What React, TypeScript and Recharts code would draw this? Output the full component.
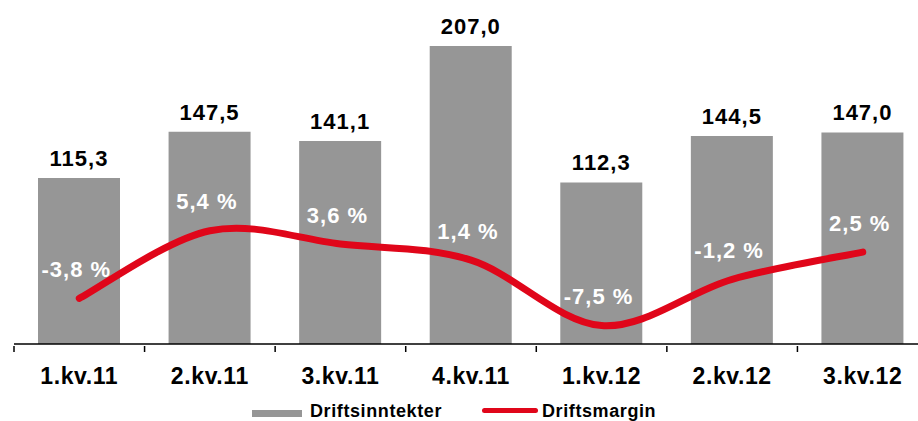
import { Bar, ComposedChart, LabelList, Line, XAxis, YAxis } from "recharts";

const quarters = ["1.kv.11", "2.kv.11", "3.kv.11", "4.kv.11", "1.kv.12", "2.kv.12", "3.kv.12"];
const revenue = [115.3, 147.5, 141.1, 207.0, 112.3, 144.5, 147.0];
const margin = [-3.8, 5.4, 3.6, 1.4, -7.5, -1.2, 2.5];

const data = quarters.map((q, i) => ({ q, revenue: revenue[i], margin: margin[i] }));

const FONT = '"Liberation Sans", Arial, sans-serif';
const BAR = "#969696";
const RED = "#e0061a";
const CHART_W = 938;
const CHART_H = 421;
const M = { top: 13, right: 10, bottom: 37, left: 14 };
const BAND = (CHART_W - M.left - M.right) / quarters.length;

const fmt = (v: number) => v.toFixed(1).replace(".", ",");

// Excel-like smoothing (Catmull-Rom through every point)
const smooth = (context: any) => {
  let xs: number[] = [];
  let ys: number[] = [];
  return {
    areaStart() {},
    areaEnd() {},
    lineStart() {
      xs = [];
      ys = [];
    },
    point(x: number, y: number) {
      xs.push(+x);
      ys.push(+y);
    },
    lineEnd() {
      const n = xs.length;
      if (!n) return;
      context.moveTo(xs[0], ys[0]);
      for (let i = 0; i < n - 1; i++) {
        const a = Math.max(i - 1, 0);
        const d = Math.min(i + 2, n - 1);
        context.bezierCurveTo(
          xs[i] + (xs[i + 1] - xs[a]) / 6,
          ys[i] + (ys[i + 1] - ys[a]) / 6,
          xs[i + 1] - (xs[d] - xs[i]) / 6,
          ys[i + 1] - (ys[d] - ys[i]) / 6,
          xs[i + 1],
          ys[i + 1]
        );
      }
    },
  };
};

const QuarterTick = (props: any) => {
  const { x, y, payload } = props;
  return (
    <g>
      <line x1={x - BAND / 2} x2={x - BAND / 2} y1={y} y2={y + 6} stroke="#000" strokeWidth={1.5} />
      <text
        x={x}
        y={y + 30}
        dy="0.35em"
        textAnchor="middle"
        fontFamily={FONT}
        fontWeight="bold"
        fontSize={23}
        letterSpacing={0.6}
        fill="#000"
      >
        {payload.value}
      </text>
    </g>
  );
};

const MarginLabel = (props: any) => {
  const { x, y, value } = props;
  return (
    <text
      x={x - 3}
      y={y - 29}
      dy="0.35em"
      textAnchor="middle"
      fontFamily={FONT}
      fontWeight="bold"
      fontSize={22}
      letterSpacing={1}
      fill="#fff"
    >
      {fmt(value) + " %"}
    </text>
  );
};

const legendText = {
  position: "absolute" as const,
  top: 402,
  fontFamily: FONT,
  fontWeight: "bold",
  fontSize: 18,
  lineHeight: "18px",
  letterSpacing: 0.6,
  whiteSpace: "nowrap" as const,
};

export default function App() {
  return (
    <div style={{ position: "relative", width: 918, height: 421, overflow: "hidden", background: "#fff" }}>
      <style>{"html,body{margin:0;padding:0;overflow:hidden}"}</style>
      <ComposedChart width={CHART_W} height={CHART_H} data={data} margin={M}>
        <XAxis
          dataKey="q"
          height={40}
          tickSize={0}
          tickLine={false}
          axisLine={{ stroke: "#000", strokeWidth: 1.5 }}
          tick={<QuarterTick />}
          interval={0}
        />
        <YAxis yAxisId="left" hide domain={[0, 230]} />
        <YAxis yAxisId="right" hide orientation="right" domain={[-10, 35]} />
        <Bar yAxisId="left" dataKey="revenue" fill={BAR} barSize={82} isAnimationActive={false}>
          <LabelList
            dataKey="revenue"
            position="top"
            offset={12}
            formatter={(v: any) => fmt(Number(v))}
            style={{ fontFamily: FONT, fontWeight: "bold", fontSize: 22, letterSpacing: 1, fill: "#000" }}
          />
        </Bar>
        <Line
          yAxisId="right"
          dataKey="margin"
          type={smooth as any}
          stroke={RED}
          strokeWidth={7}
          strokeLinecap="round"
          dot={false}
          activeDot={false}
          isAnimationActive={false}
        >
          <LabelList dataKey="margin" content={<MarginLabel />} />
        </Line>
      </ComposedChart>
      <div style={{ position: "absolute", left: 252, top: 410, width: 50, height: 7, background: BAR }} />
      <div style={{ ...legendText, left: 310 }}>Driftsinntekter</div>
      <div
        style={{ position: "absolute", left: 482, top: 408, width: 56, height: 5, borderRadius: 3, background: RED }}
      />
      <div style={{ ...legendText, left: 542 }}>Driftsmargin</div>
    </div>
  );
}
